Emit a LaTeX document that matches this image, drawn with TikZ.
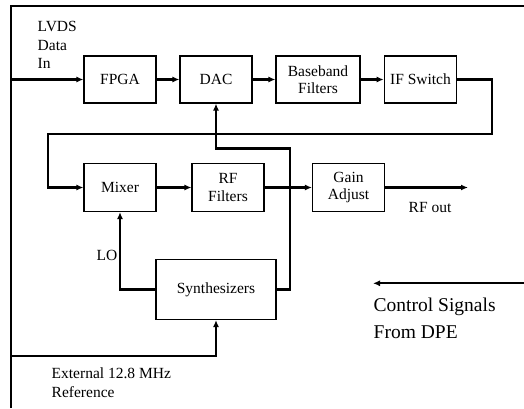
\documentclass[tikz,border=0pt]{standalone}
\usepackage{fontspec}
\setmainfont{Liberation Serif}
\usetikzlibrary{arrows.meta}
\begin{document}
\begin{tikzpicture}[x=1pt,y=-1pt,
  blk/.style={draw,line width=1.1pt,minimum width=72pt,minimum height=47pt,inner sep=1pt,align=center,font=\fontsize{15.5}{17.5}\selectfont},
  wire/.style={line width=2.2pt},
  arr/.style={wire,-{Latex[length=7pt,width=6pt]}},
  lbl/.style={inner sep=0pt,align=left,font=\fontsize{15.5}{18.8}\selectfont}]
\useasboundingbox (0,0) rectangle (524,408);
% frame
\draw[line width=2.6pt] (11,408) -- (11,6) -- (524,6);
% blocks
\node[blk] (fpga) at (120,79.5) {FPGA};
\node[blk] (dac) at (216,79.5) {DAC};
\node[blk,minimum width=84pt] (bb) at (318,79.5) {Baseband\\Filters};
\node[blk,minimum width=72.5pt] (ifs) at (420.5,79.5) {IF Switch};
\node[blk,minimum height=48pt] (mixer) at (120,187.5) {Mixer};
\node[blk,minimum height=48pt] (rff) at (228,187.5) {RF\\Filters};
\node[blk,minimum height=48pt] (gain) at (348.5,187.5) {Gain\\Adjust};
\node[blk,minimum width=120pt,minimum height=60pt] (synth) at (216,289.5) {Synthesizers};
% coordinates
\coordinate (inL) at (11,79.5);
\coordinate (r1) at (492,134);
\coordinate (l1) at (48,187.5);
\coordinate (rfout) at (468,187.5);
\coordinate (c1) at (290,148.5);
\coordinate (extL) at (11,356);
\coordinate (ctlR) at (524,283.3);
\coordinate (ctlE) at (373,283.3);
% connectors
\draw[arr] (inL) -- (fpga);
\draw[arr] (fpga) -- (dac);
\draw[arr] (dac) -- (bb);
\draw[arr] (bb) -- (ifs);
\draw[arr] (ifs.east) -| (r1) -| (l1) -- (mixer.west);
\draw[arr] (mixer) -- (rff);
\draw[arr] (rff) -- (gain);
\draw[arr] (gain.east) -- (rfout);
\draw[arr] (synth.west) -| (mixer.south);
\draw[arr] (synth.east) -| (c1) -| (dac.south);
\draw[arr] (extL) -| (synth.south);
\draw[arr] (ctlR) -- (ctlE);
% labels
\node[lbl,anchor=west] (lvds) at (37.5,45) {LVDS\\Data\\In};
\node[lbl] (rfo) at (430,207) {RF out};
\node[lbl] (lo) at (107,255) {LO};
\node[lbl,anchor=west] (ext) at (51.5,383) {External 12.8 MHz\\Reference};
\node[lbl,anchor=west,font=\fontsize{19.5}{26.7}\selectfont] (ctl) at (373.5,318) {Control Signals\\From DPE};
\end{tikzpicture}
\end{document}
